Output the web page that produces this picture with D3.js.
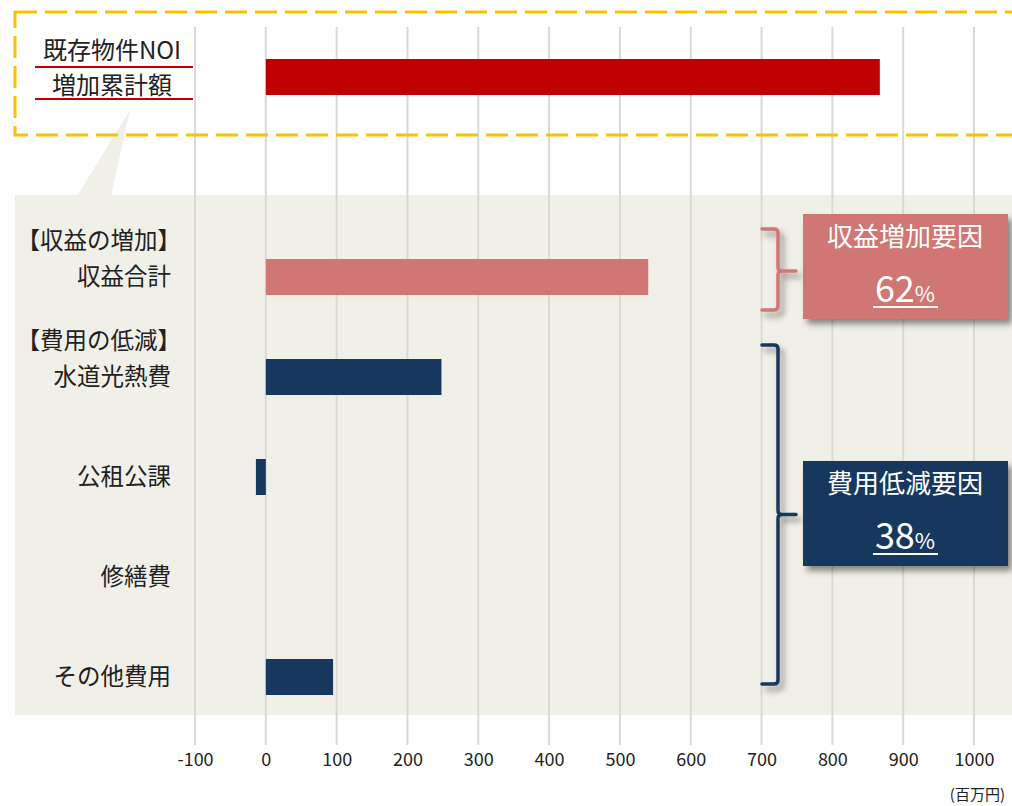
<!DOCTYPE html>
<html>
<head>
<meta charset="utf-8">
<script src="https://cdn.jsdelivr.net/npm/d3@7"></script>
<style>
  body { margin: 0; background: #fff; }
  svg { display: block; font-family: "Noto Sans CJK JP", "Noto Sans", sans-serif; }
</style>
</head>
<body>
<div class="chart"></div>
<script>
// data (百万円)
var rowKeys = ["noi", "gap", "revenue", "utility", "tax", "repair", "other"]
var rowLabels = [["既存物件NOI", "増加累計額"], [], ["【収益の増加】", "収益合計"], ["【費用の低減】", "水道光熱費"], ["公租公課"], ["修繕費"], ["その他費用"]]
var values = [867, null, 540, 248, -14, 0, 95]
var groups = ["total", null, "revenue", "cost", "cost", "cost", "cost"]
var tickValues = [-100, 0, 100, 200, 300, 400, 500, 600, 700, 800, 900, 1000]
var factorNames = ["収益増加要因", "費用低減要因"]
var factorShares = [62, 38]
var unitLabel = "(百万円)"

var width = 1012,
    height = 806

var colors = { total: "#c00000", revenue: "#d07673", cost: "#17375e" }

var svg = d3.select(".chart")
  .append("svg")
    .attr("width", width)
    .attr("height", height)

// drop shadow for the boxes and braces
var defs = svg.append("defs")
defs.append("filter")
    .attr("id", "shadow")
    .attr("x", "-20%").attr("y", "-20%")
    .attr("width", "150%").attr("height", "150%")
  .append("feDropShadow")
    .attr("dx", 4).attr("dy", 5)
    .attr("stdDeviation", 3)
    .attr("flood-color", "#000")
    .attr("flood-opacity", 0.45)

var x = d3.scaleLinear()
  .domain([-100, 1000])
  .range([195, 974])

var y = d3.scaleBand()
  .domain(rowKeys)
  .range([27, 727])
  .paddingInner(0.64)
  .paddingOuter(0.32)

// beige panel + callout wedge
svg.append("rect")
  .attr("x", 15).attr("y", 195)
  .attr("width", width - 15).attr("height", 520)
  .attr("fill", "#f1f0e8")

svg.append("path")
  .attr("d", "M77,196 L130,110 L111,196 Z")
  .attr("fill", "#f1f0e8")

// grid lines
svg.append("g")
  .selectAll("line")
  .data(tickValues)
  .enter()
  .append("line")
    .attr("x1", function(d) { return x(d) })
    .attr("x2", function(d) { return x(d) })
    .attr("y1", 27)
    .attr("y2", 745)
    .attr("stroke", "#d9d9d9")
    .attr("stroke-width", 2)

// dashed yellow frame round the total
svg.append("rect")
  .attr("x", 15).attr("y", 12)
  .attr("width", 1040).attr("height", 123)
  .attr("fill", "none")
  .attr("stroke", "#ffc000")
  .attr("stroke-width", 3)
  .attr("stroke-dasharray", "22,8")

// bars
var rows = rowKeys.map(function(k, i) { return { key: k, value: values[i], group: groups[i], label: rowLabels[i] } })

svg.append("g")
  .selectAll("rect")
  .data(rows.filter(function(d) { return d.value !== null && d.value !== 0 }))
  .enter()
  .append("rect")
    .attr("x", function(d) { return x(Math.min(0, d.value)) })
    .attr("width", function(d) { return Math.abs(x(d.value) - x(0)) })
    .attr("y", function(d) { return y(d.key) })
    .attr("height", y.bandwidth())
    .attr("fill", function(d) { return colors[d.group] })

// category labels
var labelG = svg.append("g")
rows.forEach(function(d) {
  if (d.key == "gap") return
  var cy = y(d.key) + y.bandwidth() / 2
  if (d.key == "noi") {
    d.label.forEach(function(t, j) {
      labelG.append("text")
        .attr("x", 112)
        .attr("y", cy - 26 + j * 35)
        .attr("dy", "0.35em")
        .attr("text-anchor", "middle")
        .style("font-size", "24px")
        .attr("fill", "#222")
        .text(t)
      labelG.append("line")
        .attr("x1", 35).attr("x2", 193)
        .attr("y1", cy - 10 + j * 32).attr("y2", cy - 10 + j * 32)
        .attr("stroke", "#c00000")
        .attr("stroke-width", 2)
    })
    return
  }
  var n = d.label.length
  d.label.forEach(function(t, j) {
    labelG.append("text")
      .attr("x", t.charAt(0) == "【" ? 181 : 171)
      .attr("y", cy - (n - 1 - j) * 36)
      .attr("dy", "0.35em")
      .attr("text-anchor", "end")
      .style("font-size", "23.5px")
      .attr("fill", "#222")
      .text(t)
  })
})

// x axis labels
var axis = svg.append("g")
  .attr("transform", "translate(0,741)")
  .call(d3.axisBottom(x).tickValues(tickValues).tickSize(0).tickPadding(12).tickFormat(function(d) { return String(d) }))
axis.select(".domain").remove()
axis.selectAll("text")
  .style("font-size", "18px")
  .style("font-family", "'Noto Sans CJK JP', sans-serif")
  .attr("fill", "#222")

svg.append("text")
  .attr("x", 1005).attr("y", 800)
  .attr("text-anchor", "end")
  .style("font-size", "15px")
  .attr("fill", "#222")
  .text(unitLabel)

// braces and factor boxes
function brace(top, bottom, mid, color) {
  var xr = 778, xl = 762, xn = 796
  var p = "M" + xl + "," + top + " L" + (xr - 4) + "," + top + " Q" + xr + "," + top + " " + xr + "," + (top + 4) +
          " L" + xr + "," + (mid - 4) + " Q" + xr + "," + mid + " " + (xr + 4) + "," + mid + " L" + xn + "," + mid +
          " M" + (xr + 4) + "," + mid + " Q" + xr + "," + mid + " " + xr + "," + (mid + 4) +
          " L" + xr + "," + (bottom - 4) + " Q" + xr + "," + bottom + " " + (xr - 4) + "," + bottom + " L" + xl + "," + bottom
  svg.append("path")
    .attr("d", p)
    .attr("fill", "none")
    .attr("stroke", color)
    .attr("stroke-width", 3.5)
    .attr("stroke-linecap", "round")
    .attr("filter", "url(#shadow)")
}

function factorBox(top, name, share, color) {
  var g = svg.append("g")
  g.append("rect")
    .attr("x", 803).attr("y", top)
    .attr("width", 205).attr("height", 105)
    .attr("fill", color)
    .attr("filter", "url(#shadow)")
  g.append("text")
    .attr("x", 905).attr("y", top + 32)
    .attr("text-anchor", "middle")
    .style("font-size", "26px")
    .attr("fill", "#fff")
    .text(name)
  var t = g.append("text")
    .attr("x", 905).attr("y", top + 88)
    .attr("text-anchor", "middle")
    .attr("fill", "#fff")
  t.append("tspan").style("font-size", "36px").text(share)
  t.append("tspan").style("font-size", "22px").text("%")
  g.append("line")
    .attr("x1", 873).attr("x2", 938)
    .attr("y1", top + 93).attr("y2", top + 93)
    .attr("stroke", "#fff")
    .attr("stroke-width", 2)
}

var revMid = y("revenue") + y.bandwidth() / 2
brace(revMid - 48, revMid + 33, revMid - 6, colors.revenue)
factorBox(214, factorNames[0], factorShares[0], colors.revenue)

var costTop = y("utility") + y.bandwidth() / 2 - 32
var costBottom = y("other") + y.bandwidth() / 2 + 7
brace(costTop, costBottom, (costTop + costBottom) / 2, colors.cost)
factorBox(461, factorNames[1], factorShares[1], colors.cost)
</script>
</body>
</html>
